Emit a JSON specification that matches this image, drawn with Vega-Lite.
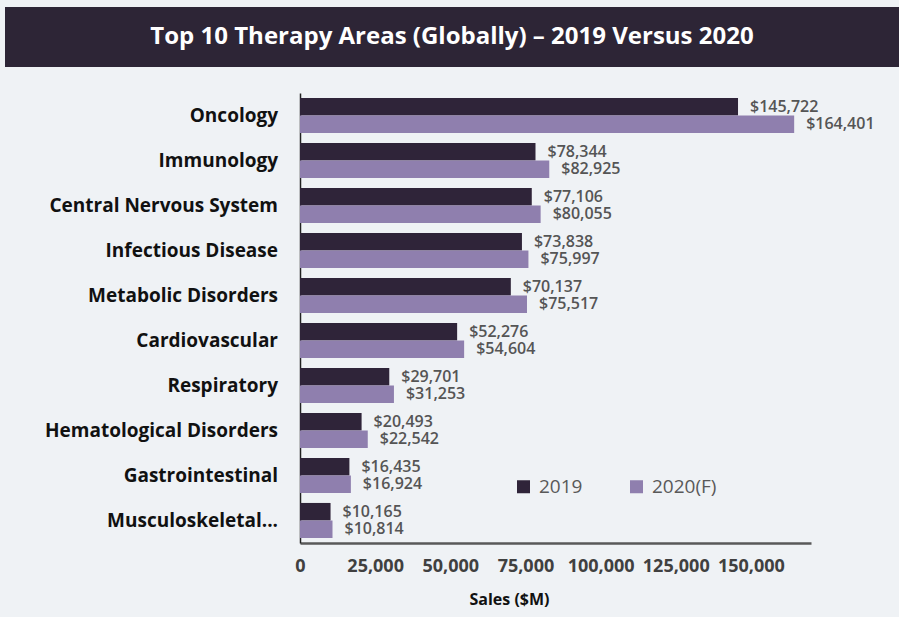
{
  "$schema": "https://vega.github.io/schema/vega-lite/v6.json",
  "background": "#eff2f5",
  "padding": {"left": 5, "top": 7, "right": 0, "bottom": 10},
  "config": {"view": {"stroke": null}, "font": "Open Sans"},
  "datasets": {
    "title": [{"t": "Top 10 Therapy Areas (Globally) – 2019 Versus 2020"}],
    "sales": [
      {"area": "Oncology", "year": "2019", "sales": 145722},
      {"area": "Oncology", "year": "2020(F)", "sales": 164401},
      {"area": "Immunology", "year": "2019", "sales": 78344},
      {"area": "Immunology", "year": "2020(F)", "sales": 82925},
      {"area": "Central Nervous System", "year": "2019", "sales": 77106},
      {"area": "Central Nervous System", "year": "2020(F)", "sales": 80055},
      {"area": "Infectious Disease", "year": "2019", "sales": 73838},
      {"area": "Infectious Disease", "year": "2020(F)", "sales": 75997},
      {"area": "Metabolic Disorders", "year": "2019", "sales": 70137},
      {"area": "Metabolic Disorders", "year": "2020(F)", "sales": 75517},
      {"area": "Cardiovascular", "year": "2019", "sales": 52276},
      {"area": "Cardiovascular", "year": "2020(F)", "sales": 54604},
      {"area": "Respiratory", "year": "2019", "sales": 29701},
      {"area": "Respiratory", "year": "2020(F)", "sales": 31253},
      {"area": "Hematological Disorders", "year": "2019", "sales": 20493},
      {"area": "Hematological Disorders", "year": "2020(F)", "sales": 22542},
      {"area": "Gastrointestinal", "year": "2019", "sales": 16435},
      {"area": "Gastrointestinal", "year": "2020(F)", "sales": 16924},
      {"area": "Musculoskeletal...", "year": "2019", "sales": 10165},
      {"area": "Musculoskeletal...", "year": "2020(F)", "sales": 10814}
    ]
  },
  "spacing": 26,
  "vconcat": [
    {
      "width": 894,
      "height": 60,
      "view": {"fill": "#2d2536", "stroke": null},
      "data": {"name": "title"},
      "mark": {"type": "text", "color": "white", "fontSize": 24, "fontWeight": "bold", "font": "Open Sans"},
      "encoding": {"text": {"field": "t", "type": "nominal"}}
    },
    {
      "spacing": 16,
      "hconcat": [
        {
          "width": 273,
          "height": 450,
          "data": {"name": "sales"},
          "transform": [{"filter": "datum.year === '2019'"}],
          "mark": {"type": "text", "align": "right", "baseline": "middle", "fontSize": 19, "fontWeight": "bold", "color": "#111"},
          "encoding": {
            "y": {"field": "area", "type": "nominal", "sort": null, "scale": {"paddingInner": 0.22, "paddingOuter": 0.11}, "axis": null},
            "x": {"datum": 1, "type": "quantitative", "scale": {"domain": [0, 1]}, "axis": null},
            "text": {"field": "area", "type": "nominal"}
          }
        },
        {
          "width": 511,
          "height": 450,
          "data": {"name": "sales"},
          "encoding": {
            "y": {
              "field": "area", "type": "nominal", "sort": null,
              "scale": {"paddingInner": 0.22, "paddingOuter": 0.11},
              "axis": {"title": null, "labels": false, "domainColor": "#222", "domainWidth": 1.5, "ticks": false}
            },
            "x": {
              "field": "sales", "type": "quantitative",
              "scale": {"domain": [0, 170000], "nice": false},
              "axis": {"title": "Sales ($M)", "values": [0, 25000, 50000, 75000, 100000, 125000, 150000], "format": ",d", "grid": false, "ticks": false, "domainColor": "#595959", "domainWidth": 2.5, "labelFontSize": 18, "labelFontWeight": "bold", "labelColor": "#404040", "labelPadding": 14, "labelFlush": false, "titleFontSize": 16, "titleFontWeight": "bold", "titleColor": "#111", "titlePadding": 16, "titleX": 209}
            },
            "yOffset": {"field": "year", "type": "nominal", "sort": ["2019", "2020(F)"]}
          },
          "layer": [
            {
              "mark": {"type": "bar"},
              "encoding": {
                "color": {
                  "field": "year", "type": "nominal",
                  "scale": {"domain": ["2019", "2020(F)"], "range": ["#2f2439", "#8f7fae"]},
                  "legend": {"title": null, "orient": "none", "legendX": 509, "legendY": 470, "direction": "horizontal", "symbolType": "square", "symbolSize": 169, "symbolStrokeWidth": 0, "labelFontSize": 19, "labelColor": "#595959", "columnPadding": 44, "labelOffset": 6}
                }
              }
            },
            {
              "mark": {"type": "text", "align": "left", "baseline": "middle", "dx": 12, "fontSize": 16, "fontWeight": 600, "color": "#555"},
              "encoding": {"text": {"field": "sales", "type": "quantitative", "format": "$,.0f"}}
            }
          ]
        }
      ]
    }
  ]
}
